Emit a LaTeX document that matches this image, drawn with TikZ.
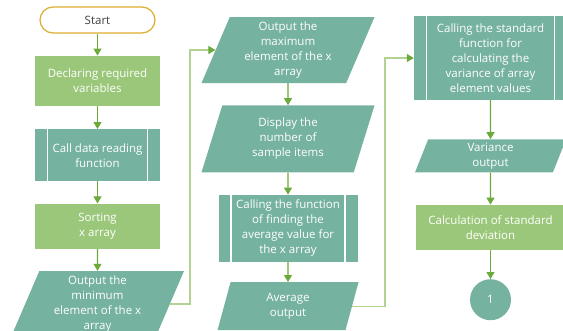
\documentclass[tikz,border=0pt]{standalone}
\usepackage{fontspec}
\setmainfont{Open Sans}
\usepackage{tikz}
\usetikzlibrary{positioning,calc,shapes,arrows.meta}
\definecolor{myteal}{RGB}{118,178,160}
\definecolor{mygreen}{RGB}{155,199,122}
\definecolor{myarrow}{RGB}{108,170,60}
\definecolor{myline}{RGB}{178,210,145}
\definecolor{mygold}{RGB}{222,172,45}
\tikzstyle{terminal}=[draw=mygold,line width=1.2pt,fill=white,rounded corners=13pt,minimum width=115pt,minimum height=26pt,text=black!75]
\tikzstyle{process}=[fill=mygreen,text=white,align=center,inner sep=2pt]
\tikzstyle{predef}=[fill=myteal,text=white,align=center,inner sep=2pt]
\tikzstyle{io}=[trapezium,trapezium left angle=63.4,trapezium right angle=116.6,trapezium stretches body,fill=myteal,text=white,align=center,inner sep=0pt]
\tikzstyle{connector}=[circle,fill=myteal,text=white,minimum size=41pt]

\begin{document}
\begin{tikzpicture}[x=1pt,y=-1pt,font=\fontsize{11.5}{15}\selectfont,node distance=22pt]
\tikzstyle{flow}=[-{Triangle[length=7pt,width=8pt]},draw=myarrow,line width=1.1pt]
\tikzstyle{loopline}=[-{Triangle[length=7pt,width=8pt,color=myarrow]},draw=myline,line width=1.1pt]
\useasboundingbox (0,0) rectangle (563,330);

% first column
\node (start) [terminal] at (97.5,20) {Start};
\node (decl) [process,below=of start,minimum width=125pt,minimum height=50pt] {Declaring required\\variables};
\node (call) [predef,below=23pt of decl,minimum width=125pt,minimum height=52pt] {Call data reading\\function};
\node (sort) [process,below=of call,minimum width=125pt,minimum height=45pt] {Sorting\\x array};
\node (outmin) [io,below=of sort,minimum width=173pt,minimum height=66pt] {Output the\\minimum\\element of the x\\array};

% second column
\node (outmax) [io,minimum width=173pt,minimum height=66pt] at (288,50) {Output the\\maximum\\element of the x\\array};
\node (disp) [io,below=of outmax,minimum width=173pt,minimum height=67pt] {Display the\\number of\\sample items};
\node (avgfn) [predef,below=of disp,minimum width=139pt,minimum height=67pt] {Calling the function\\of finding the\\average value for\\the x array};
\node (avgout) [io,below=20pt of avgfn,minimum width=141pt,minimum height=48pt] {Average\\output};

% third column
\node (stdfn) [predef,minimum width=153pt,minimum height=84pt] at (490.5,58) {Calling the standard\\function for\\calculating the\\variance of array\\element values};
\node (varout) [io,below=39pt of stdfn,minimum width=151pt,minimum height=33pt] {Variance\\output};
\node (calc) [process,below=32pt of varout,minimum width=149pt,minimum height=45pt] {Calculation of standard\\deviation};
\node (one) [connector,below=29pt of calc] {1};

% predefined process bars
\foreach \n in {call,avgfn,stdfn}{
  \draw[white,line width=1.5pt] ([xshift=12.5pt]\n.north west) -- ([xshift=12.5pt]\n.south west);
  \draw[white,line width=1.5pt] ([xshift=-12.5pt]\n.north east) -- ([xshift=-12.5pt]\n.south east);
}

\foreach \a/\b in {start/decl,decl/call,call/sort,sort/outmin,outmax/disp,disp/avgfn,avgfn/avgout,stdfn/varout,varout/calc,calc/one}
  \draw[flow] (\a) -- (\b);

\coordinate (bendA) at (190,0);
\coordinate (bendB) at (385,0);
\draw[loopline] (outmin.east) -- (outmin.east -| bendA) |- (outmax.west);
\draw[loopline] (avgout.east) -- (avgout.east -| bendB) |- (stdfn.west);
\end{tikzpicture}
\end{document}
